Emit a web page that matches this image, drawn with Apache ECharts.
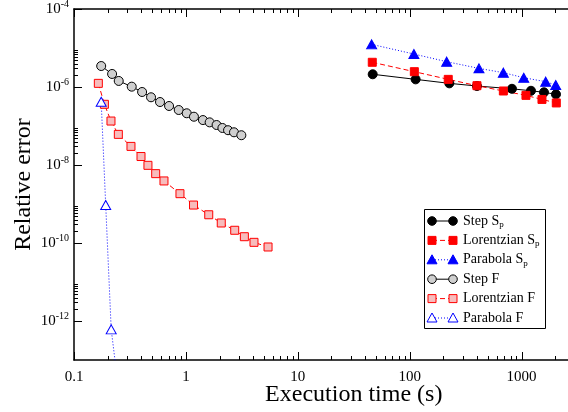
<!DOCTYPE html>
<html><head><meta charset="utf-8">
<script src="https://cdn.jsdelivr.net/npm/echarts@6/dist/echarts.min.js"></script>
<style>html,body{margin:0;padding:0;background:#fff}#c{width:568px;height:412px}</style>
</head><body><div id="c"></div>
<script>
// Execution time (s) and relative error for each method
const stepSpTime = [46.7, 113, 226, 399, 820, 1213, 1585, 2028];
const stepSpErr  = [2.12e-6, 1.57e-6, 1.24e-6, 1.06e-6, 9.0e-7, 8.0e-7, 7.3e-7, 6.5e-7];
const lorSpTime  = [46.3, 110, 221, 399, 687, 1094, 1521, 2042];
const lorSpErr   = [4.3e-6, 2.47e-6, 1.57e-6, 1.08e-6, 7.9e-7, 6.1e-7, 4.8e-7, 3.9e-7];
const parSpTime  = [45.7, 109, 214, 416, 687, 1045, 1642, 2018];
const parSpErr   = [1.24e-5, 7.0e-6, 4.46e-6, 3.0e-6, 2.33e-6, 1.73e-6, 1.37e-6, 1.12e-6];
const stepFTime  = [0.175, 0.219, 0.251, 0.328, 0.406, 0.488, 0.587, 0.707, 0.863, 1.017, 1.18, 1.42, 1.63, 1.88, 2.12, 2.38, 2.69, 3.13];
const stepFErr   = [3.45e-6, 2.16e-6, 1.43e-6, 1.02e-6, 7.45e-7, 5.45e-7, 4.12e-7, 3.26e-7, 2.57e-7, 2.12e-7, 1.73e-7, 1.42e-7, 1.24e-7, 1.06e-7, 8.9e-8, 7.8e-8, 6.9e-8, 5.8e-8];
const lorFTime   = [0.165, 0.187, 0.214, 0.249, 0.323, 0.397, 0.458, 0.537, 0.637, 0.885, 1.17, 1.60, 2.07, 2.73, 3.33, 4.06, 5.42];
const lorFErr    = [1.24e-6, 3.6e-7, 1.34e-7, 6.1e-8, 3.0e-8, 1.65e-8, 9.8e-9, 6.0e-9, 3.9e-9, 1.84e-9, 9.4e-10, 5.3e-10, 3.26e-10, 2.12e-10, 1.45e-10, 1.04e-10, 7.9e-11];
const parFTime   = [0.175, 0.192, 0.215, 0.25];
const parFErr    = [4.2e-7, 9.4e-10, 6.1e-13, 1.8e-14];

// Tick labels (decade exponents)
const xTickExps   = [-1, 0, 1, 2, 3];
const xTickLabels = ['0.1', '1', '10', '100', '1000'];
const yTickExps   = [-4, -6, -8, -10, -12];

const SERIF = 'Liberation Serif';
const lg = Math.log10;
const pairs = (t, e) => t.map((v, i) => [lg(v), lg(e[i])]);

// Axis ranges (in decades)
const X_MIN = -1, X_MAX = 4, Y_MIN = -13, Y_MAX = -4;

// log-spaced tick positions
const xMajor = [-1, 0, 1, 2, 3];
const xMinor = [];
for (let d = -1; d <= 3; d++) for (let k = 2; k <= 9; k++) xMinor.push(d + lg(k));
const yMajor = [-4, -6, -8, -10, -12];
const yMinor = [];
for (const d of [-12, -10, -8, -6]) for (let k = 2; k <= 9; k++) yMinor.push(d + lg(k));

const methods = [
  { name: 'Step S', sub: 'p', t: stepSpTime, e: stepSpErr, symbol: 'circle', size: 9, fill: '#000', stroke: '#000', line: '#000', type: 'solid' },
  { name: 'Lorentzian S', sub: 'p', t: lorSpTime, e: lorSpErr, symbol: 'rect', size: 8, fill: '#ff0000', stroke: '#ff0000', line: '#ff0000', type: [5, 3] },
  { name: 'Parabola S', sub: 'p', t: parSpTime, e: parSpErr, symbol: 'triangle', size: [10, 9], fill: '#0000ff', stroke: '#0000ff', line: '#0000ff', type: [1, 2] },
  { name: 'Step F', sub: '', t: stepFTime, e: stepFErr, symbol: 'circle', size: 9, fill: '#cfcfcf', stroke: '#000', line: '#000', type: 'solid' },
  { name: 'Lorentzian F', sub: '', t: lorFTime, e: lorFErr, symbol: 'rect', size: 8, fill: '#f7bcbc', stroke: '#ff0000', line: '#ff0000', type: [5, 3] },
  { name: 'Parabola F', sub: '', t: parFTime, e: parFErr, symbol: 'triangle', size: [10, 9], fill: '#ffffff', stroke: '#0000ff', line: '#0000ff', type: [1, 2] }
];

const series = methods.map(m => ({
  name: m.name + m.sub,
  type: 'line',
  data: pairs(m.t, m.e),
  symbol: m.symbol,
  symbolSize: m.size,
  showSymbol: true,
  clip: true,
  z: 3,
  lineStyle: { color: m.line, width: 1, type: m.type },
  itemStyle: { color: m.fill, borderColor: m.stroke, borderWidth: 1 },
  emphasis: { disabled: true }
}));

const axisLine = { show: true, onZero: false, lineStyle: { color: '#000', width: 1.5 } };

const xAxis = [
  {
    type: 'value', min: X_MIN, max: X_MAX, position: 'bottom', splitLine: { show: false },
    axisLine, axisTick: { show: false },
    axisLabel: { show: true, customValues: xTickExps, margin: 10, color: '#000', fontFamily: SERIF, fontSize: 15,
      formatter: v => xTickLabels[xTickExps.indexOf(Math.round(v))] },
    name: 'Execution time (s)', nameLocation: 'middle', nameGap: 23, nameMoveOverlap: false,
    nameTextStyle: { fontFamily: SERIF, fontSize: 24, color: '#000' }
  },
  { type: 'value', min: X_MIN, max: X_MAX, position: 'top', splitLine: { show: false },
    axisLine, axisTick: { show: false }, axisLabel: { show: false } }
];

const yAxis = [{
  type: 'value', min: Y_MIN, max: Y_MAX, position: 'left', splitLine: { show: false },
  axisLine, axisTick: { show: false },
  axisLabel: { show: true, customValues: yTickExps, margin: 5, color: '#000',
    formatter: v => '{b|10}{s|' + Math.round(v) + '}',
    rich: {
      b: { fontFamily: SERIF, fontSize: 15, color: '#000' },
      s: { fontFamily: SERIF, fontSize: 10, color: '#000', verticalAlign: 'bottom', padding: [0, 0, 9, 0] }
    } },
  name: 'Relative error', nameLocation: 'middle', nameGap: 38, nameRotate: 90, nameMoveOverlap: false,
  nameTextStyle: { fontFamily: SERIF, fontSize: 24, color: '#000' }
}];

// Legend box: line segment with a symbol at each end, then the label
function legendSymbol(m, cx, cy) {
  const style = { fill: m.fill, stroke: m.stroke, lineWidth: 1 };
  if (m.symbol === 'circle') return { type: 'circle', shape: { cx, cy, r: 4.3 }, style };
  if (m.symbol === 'rect') return { type: 'rect', shape: { x: cx - 4, y: cy - 4, width: 8, height: 8 }, style };
  return { type: 'polygon', shape: { points: [[cx, cy - 5], [cx + 5, cy + 4], [cx - 5, cy + 4]] }, style };
}
const legendEls = [{ type: 'rect', shape: { x: 424.5, y: 209.5, width: 121, height: 119 },
  style: { fill: '#fff', stroke: '#000', lineWidth: 1 } }];
methods.forEach((m, i) => {
  const y = 221 + i * 19.4;
  legendEls.push({ type: 'line', shape: { x1: 432, y1: y, x2: 453, y2: y },
    style: { stroke: m.line, lineWidth: 1, lineDash: m.type === 'solid' ? null : m.type } });
  legendEls.push(legendSymbol(m, 432, y));
  legendEls.push(legendSymbol(m, 453, y));
  legendEls.push({ type: 'text', x: 463, y: y, style: {
    text: '{n|' + m.name + '}' + (m.sub ? '{p|' + m.sub + '}' : ''),
    verticalAlign: 'middle',
    rich: {
      n: { fontFamily: SERIF, fontSize: 14, fill: '#000' },
      p: { fontFamily: SERIF, fontSize: 9, fill: '#000', verticalAlign: 'top', padding: [7, 0, 0, 0] }
    } } });
});

const chart = echarts.init(document.getElementById('c'), null, { renderer: 'canvas' });
chart.setOption({
  animation: false,
  backgroundColor: '#fff',
  grid: { left: 74, top: 9, width: 559.5, height: 351, containLabel: false, outerBoundsMode: 'none' },
  xAxis, yAxis, series
});

// Inward tick marks on the frame, placed through the axes' own scales
const toPx = p => chart.convertToPixel({ xAxisIndex: 0, yAxisIndex: 0 }, p);
const frameLeft = toPx([X_MIN, Y_MIN])[0];
const frameBottom = toPx([X_MIN, Y_MIN])[1];
const frameTop = toPx([X_MIN, Y_MAX])[1];
const tickStyle = { stroke: '#000', lineWidth: 1 };
const tickEls = [];
const addX = (v, len) => {
  const x = Math.round(toPx([v, Y_MIN])[0]) + 0.5;
  tickEls.push({ type: 'line', shape: { x1: x, y1: frameBottom, x2: x, y2: frameBottom - len }, style: tickStyle });
  tickEls.push({ type: 'line', shape: { x1: x, y1: frameTop, x2: x, y2: frameTop + len }, style: tickStyle });
};
const addY = (v, len) => {
  const y = Math.round(toPx([X_MIN, v])[1]) + 0.5;
  tickEls.push({ type: 'line', shape: { x1: frameLeft, y1: y, x2: frameLeft + len, y2: y }, style: tickStyle });
};
xMajor.forEach(v => addX(v, 8));
xMinor.forEach(v => addX(v, 4));
yMajor.forEach(v => addY(v, 8));
yMinor.forEach(v => addY(v, 4));

chart.setOption({
  graphic: { elements: [
    { type: 'group', id: 'ticks', z: 50, silent: true, children: tickEls },
    { type: 'group', id: 'legend', z: 100, children: legendEls }
  ] }
});
</script>
</body></html>
